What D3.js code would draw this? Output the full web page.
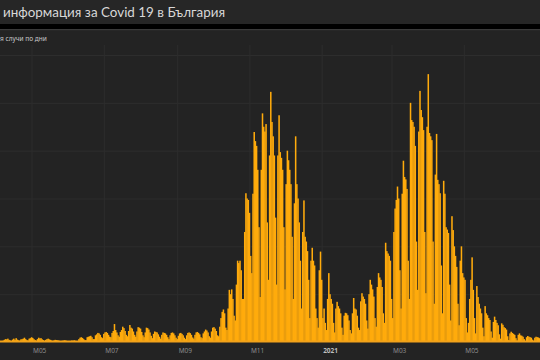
<!DOCTYPE html>
<html><head><meta charset="utf-8">
<script src="https://cdn.jsdelivr.net/npm/d3@7"></script>
<style>html,body{margin:0;padding:0;background:#232323;overflow:hidden}</style>
</head><body><svg id="c" width="540" height="360"></svg>
<script>
const titleText = "информация за Covid 19 в България";
const subtitleText = "я случи по дни";

// daily new cases, weekly rows Mon..Sun
const start2020 = "2020-04-06";
const cases2020 = [
  25,45,60,55,70,45,30,
  20,50,70,45,80,50,35,
  25,55,60,70,90,60,40,
  30,70,80,100,85,60,40,
  25,60,90,75,80,55,40,
  20,45,60,70,55,45,30,
  15,35,45,40,35,30,20,
  10,25,30,35,30,20,15,
  10,20,30,25,35,25,15,
  20,60,90,100,85,60,40,
  40,100,110,120,130,100,60,
  60,140,160,190,180,150,100,
  80,170,200,210,190,150,110,
  100,190,230,375,250,200,140,
  110,210,250,320,290,230,150,
  120,230,355,300,280,220,150,
  110,220,310,300,280,210,140,
  100,200,300,290,260,200,130,
  80,170,220,210,200,160,110,
  70,150,200,190,180,150,100,
  60,140,190,200,180,140,90,
  60,130,180,190,170,140,90,
  60,140,190,200,185,150,95,
  70,150,200,210,190,160,100,
  80,180,220,260,240,200,120,
  90,220,300,310,280,230,140,
  120,320,500,630,680,600,300,
  250,700,1090,1000,1100,900,550,
  450,1200,1700,1650,1700,1500,900,
  900,2300,3110,3000,2970,2700,1800,
  1440,3100,4390,4200,4100,3600,2400,
  940,3600,4780,4500,4400,4556,2500,
  1300,3900,5230,4600,4300,3900,2600,
  1200,3900,4740,3970,3850,3600,2400,
  1100,3300,4000,3800,3600,3300,2200,
  900,2900,4300,3300,3000,2500,1700,
  700,2300,2960,2200,2100,1900,1300,
  500,1700,1970,1700,1600,700,500,
  300,1500,1890,1300
];
const start2021 = "2021-01-01";
const cases2021 = [
  500,700,400,
  250,900,1440,1000,900,800,400,
  200,700,840,750,700,600,300,
  150,550,610,600,560,450,250,
  180,600,920,700,680,550,300,
  250,850,1020,950,900,800,450,
  280,1000,1300,1200,1100,950,500,
  320,1150,1440,1350,1300,1150,600,
  400,2075,1900,1850,1800,1700,900,
  500,2300,2790,2970,3250,3000,1500,
  700,3100,3790,3450,3400,3200,1700,
  900,5000,4640,4600,4500,4100,2100,
  1090,4400,5250,4850,4700,4430,2300,
  1020,4500,5600,4370,4300,4220,2100,
  800,3500,4350,3390,3300,3110,1600,
  600,3370,3100,2400,2350,2280,1200,
  450,2630,2340,2000,1800,1570,800,
  350,1700,2000,1440,1350,1300,500,
  200,400,900,1300,1770,1090,500,
  180,1170,940,800,700,600,300,
  120,750,600,560,500,460,220,
  90,420,530,460,400,350,160,
  70,390,360,310,290,260,120,
  40,180,215,190,170,150,80,
  30,150,180,140,130,110,60,
  20,100,125,110,100,90,50,
  20,90,110,100,95,80,45
];
const tickDates = ["2020-05-01","2020-07-01","2020-09-01","2020-11-01","2021-01-01","2021-03-01","2021-05-01"];
const tickLabels = ["M05","M07","M09","M11","2021","M03","M05"];
const gridValues = [1000,2000,3000,4000,5000,6000];

const DAY = 86400000;
function toRows(startStr, arr){
  const s = Date.parse(startStr + "T00:00:00Z");
  return arr.map((v,i)=>({date:new Date(s + i*DAY), value:v}));
}
const data = toRows(start2020, cases2020).concat(toRows(start2021, cases2021));

const svg = d3.select("#c");
const W = 540, H = 360;

const x = d3.scaleUtc()
  .domain([new Date(Date.UTC(2020,4,1)), new Date(Date.UTC(2021,2,1))])
  .range([32, 392]);
const y = d3.scaleLinear().domain([0, 6000]).range([342, 55]);

// backgrounds
svg.append("rect").attr("x",0).attr("y",0).attr("width",W).attr("height",H).attr("fill","#232323");
svg.append("rect").attr("x",0).attr("y",0).attr("width",W).attr("height",24).attr("fill","#262626");
svg.append("rect").attr("x",0).attr("y",24).attr("width",W).attr("height",5).attr("fill","#000");
svg.append("rect").attr("x",0).attr("y",29).attr("width",W).attr("height",1.2).attr("fill","#3a3a3a");

svg.append("text").attr("x",3).attr("y",17)
  .attr("font-family","Lato, 'Noto Sans', sans-serif").attr("font-size",14)
  .attr("textLength",222).attr("lengthAdjust","spacingAndGlyphs")
  .attr("fill","#d8d8d8").text(titleText);
svg.append("text").attr("x",0).attr("y",41)
  .attr("font-family","'Noto Sans', sans-serif").attr("font-size",6.5)
  .attr("fill","#c8c8c8").text(subtitleText);

// grid
const g = svg.append("g");
g.selectAll("line.h").data(gridValues).join("line").attr("class","h")
  .attr("x1",0).attr("x2",W).attr("y1",d=>y(d)+0.5).attr("y2",d=>y(d)+0.5)
  .attr("stroke","#2d2d2d").attr("stroke-width",1);
g.selectAll("line.v").data(tickDates).join("line").attr("class","v")
  .attr("x1",d=>x(new Date(d+"T00:00:00Z"))).attr("x2",d=>x(new Date(d+"T00:00:00Z")))
  .attr("y1",45).attr("y2",342)
  .attr("stroke","#2d2d2d").attr("stroke-width",1);

// bars
svg.append("g").selectAll("rect").data(data).join("rect")
  .attr("x", d=>x(d.date))
  .attr("width", d=>x(new Date(+d.date + DAY)) - x(d.date) + 0.35)
  .attr("y", d=>y(d.value))
  .attr("height", d=>y(0) - y(d.value))
  .attr("fill", "#ffab0c");

// baseline
svg.append("rect").attr("x",0).attr("y",340.5).attr("width",W).attr("height",2).attr("fill","#f2a21a");

// x labels
svg.append("g").selectAll("text").data(tickDates).join("text")
  .attr("x", d=>x(new Date(d+"T00:00:00Z")) + 1)
  .attr("y", 352.5)
  .attr("font-family","'Noto Sans', sans-serif").attr("font-size",6.5)
  .attr("fill",(d,i)=> tickLabels[i]==="2021" ? "#bdbdbd" : "#8c8c8c")
  .attr("font-weight",(d,i)=> tickLabels[i]==="2021" ? "bold" : "normal")
  .text((d,i)=>tickLabels[i]);
</script>
</body></html>
